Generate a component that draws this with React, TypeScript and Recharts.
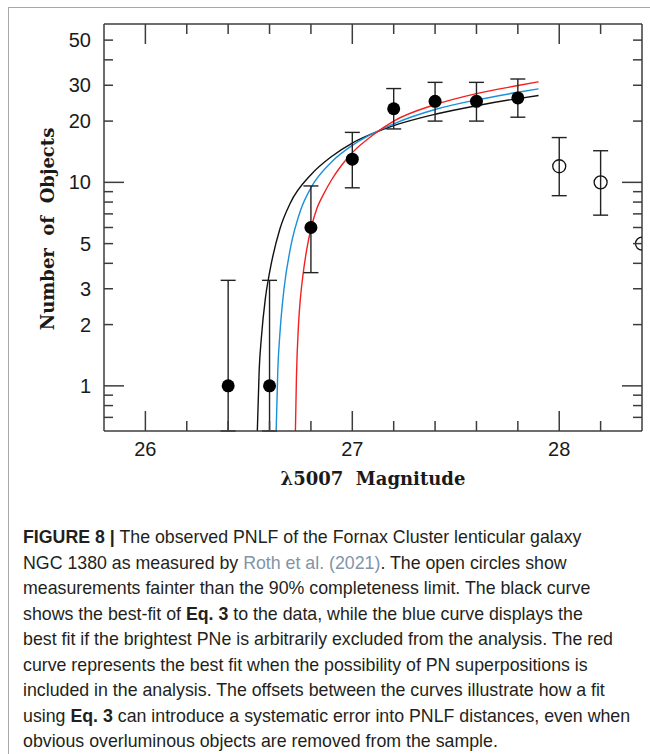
import { ComposedChart, Line, Scatter, ErrorBar, XAxis, YAxis } from 'recharts'

// measured points (filled = brighter than completeness limit)
const magFilled = [26.4, 26.6, 26.8, 27.0, 27.2, 27.4, 27.6, 27.8]
const nFilled = [1, 1, 6, 13, 23, 25, 25, 26]
const loFilled = [0.6, 0.6, 3.6, 9.4, 18.3, 20, 20, 20.9]
const hiFilled = [3.3, 3.3, 9.6, 17.6, 28.9, 31, 31, 32.2]

// open circles, fainter than the 90% limit
const magOpen = [28.0, 28.2, 28.4]
const nOpen = [12, 10, 5]
const loOpen: (number | null)[] = [8.6, 6.9, null]
const hiOpen: (number | null)[] = [16.6, 14.3, null]

// fitted curves
const blackMag = [26.541, 26.55, 26.56, 26.58, 26.6, 26.65, 26.7, 26.8, 26.9, 27.0, 27.1, 27.2, 27.4, 27.6, 27.8, 27.9]
const blackN = [0.6, 1.2, 1.7, 2.7, 3.6, 5.9, 7.9, 10.9, 13.4, 15.6, 17.4, 19.0, 21.6, 23.8, 25.8, 26.7]
const blueMag = [26.632, 26.64, 26.65, 26.67, 26.7, 26.75, 26.8, 26.9, 27.0, 27.1, 27.2, 27.4, 27.6, 27.8, 27.9]
const blueN = [0.6, 1.2, 1.8, 3.0, 4.7, 7.3, 9.4, 12.6, 15.2, 17.4, 19.4, 22.8, 25.4, 27.7, 28.8]
const redMag = [26.725, 26.73, 26.74, 26.75, 26.76, 26.78, 26.8, 26.83, 26.86, 26.9, 26.95, 27.0, 27.1, 27.2, 27.4, 27.6, 27.8, 27.9]
const redN = [0.6, 1.1, 2.0, 2.75, 3.4, 4.7, 5.9, 7.5, 8.7, 10.3, 12.2, 14.0, 17.1, 20.0, 24.1, 27.3, 29.9, 31.2]

const xTicks = [25.8, 26, 26.2, 26.4, 26.6, 26.8, 27, 27.2, 27.4, 27.6, 27.8, 28, 28.2, 28.4]
const xLabels = [26, 27, 28]
const yTicks = [0.7, 0.8, 0.9, 1, 2, 3, 4, 5, 6, 7, 8, 9, 10, 20, 30, 40, 50]
const yLabels = [1, 2, 3, 5, 10, 20, 30, 50]

const AXIS = '#3c3c3c'
const TICK_FONT = '"Liberation Sans", Arial, sans-serif'
const TITLE_FONT = '"DejaVu Serif", serif'

const toCurve = (ms: number[], ns: number[]) => ms.map((m, i) => ({ m, n: ns[i] }))
const toPoints = (ms: number[], ns: number[], lo: (number | null)[], hi: (number | null)[]) =>
  ms.map((m, i) => ({
    m,
    n: ns[i],
    err: lo[i] == null || hi[i] == null ? null : [ns[i] - (lo[i] as number), (hi[i] as number) - ns[i]],
  }))

const filled = toPoints(magFilled, nFilled, loFilled, hiFilled)
const open = toPoints(magOpen, nOpen, loOpen, hiOpen)

const xLen = (v: number) => (xLabels.includes(v) ? 20 : 10)
const yLen = (v: number) => (v === 1 || v === 10 ? 20 : 9)

function BottomTick(props: any) {
  const { x, y, payload } = props
  const v = payload.value
  if (v === 25.8 || v === 28.4) return <g />
  return (
    <g>
      <line x1={x} x2={x} y1={y} y2={y - xLen(v)} stroke={AXIS} strokeWidth={1.5} />
      {xLabels.includes(v) && (
        <text x={x} y={y + 18} dy="0.35em" textAnchor="middle" fontFamily={TICK_FONT} fontSize={20} fill="#1a1a1a">
          {v}
        </text>
      )}
    </g>
  )
}

function TopTick(props: any) {
  const { x, y, payload } = props
  const v = payload.value
  if (v === 25.8 || v === 28.4) return <g />
  return <line x1={x} x2={x} y1={y} y2={y + xLen(v)} stroke={AXIS} strokeWidth={1.5} />
}

function LeftTick(props: any) {
  const { x, y, payload } = props
  const v = payload.value
  return (
    <g>
      <line x1={x} x2={x + yLen(v)} y1={y} y2={y} stroke={AXIS} strokeWidth={1.5} />
      {yLabels.includes(v) && (
        <text x={x - 13} y={y} dy="0.35em" textAnchor="end" fontFamily={TICK_FONT} fontSize={20} fill="#1a1a1a">
          {v}
        </text>
      )}
    </g>
  )
}

function RightTick(props: any) {
  const { x, y, payload } = props
  const v = payload.value
  return <line x1={x} x2={x - yLen(v)} y1={y} y2={y} stroke={AXIS} strokeWidth={1.5} />
}

const FilledDot = (p: any) => <circle cx={p.cx} cy={p.cy} r={6.5} fill="#000" />
const OpenDot = (p: any) => <circle cx={p.cx} cy={p.cy} r={6.5} fill="none" stroke="#111" strokeWidth={1.3} />

const captionStyle = { fontFamily: '"Liberation Sans", Arial, sans-serif', fontSize: 18.5, color: '#231f20' }

export default function App() {
  return (
    <div style={{ position: 'absolute', left: 0, top: 0, width: 650, height: 754, overflow: 'hidden', background: '#fff' }}>
      <div style={{ position: 'absolute', left: 8, top: 7, width: 660, height: 760, borderLeft: '1.5px solid #a8a8a8', borderTop: '1.5px solid #a8a8a8' }} />
      <div style={{ position: 'absolute', left: 0, top: 0 }}>
        <ComposedChart width={650} height={500} margin={{ top: 23, right: 7, bottom: 0, left: 0 }}>
          <XAxis xAxisId="b" dataKey="m" type="number" domain={[25.8, 28.4]} ticks={xTicks} allowDataOverflow
            height={69} tickSize={0} tickMargin={0} tick={<BottomTick />} interval={0}
            axisLine={{ stroke: AXIS, strokeWidth: 1.5 }} />
          <XAxis xAxisId="t" orientation="top" dataKey="m" type="number" domain={[25.8, 28.4]} ticks={xTicks} allowDataOverflow
            height={1} tickSize={0} tickMargin={0} tick={<TopTick />} interval={0}
            axisLine={{ stroke: AXIS, strokeWidth: 1.5 }} />
          <YAxis yAxisId="l" dataKey="n" type="number" scale="log" domain={[0.6, 60]} ticks={yTicks} allowDataOverflow
            width={104} tickSize={0} tickMargin={0} tick={<LeftTick />} interval={0}
            axisLine={{ stroke: AXIS, strokeWidth: 1.5 }} />
          <YAxis yAxisId="r" orientation="right" dataKey="n" type="number" scale="log" domain={[0.6, 60]} ticks={yTicks} allowDataOverflow
            width={1} tickSize={0} tickMargin={0} tick={<RightTick />} interval={0}
            axisLine={{ stroke: AXIS, strokeWidth: 1.5 }} />
          <Line xAxisId="b" yAxisId="l" data={toCurve(blackMag, blackN)} dataKey="n" type="monotone" stroke="#111" strokeWidth={1.4} dot={false} isAnimationActive={false} />
          <Line xAxisId="b" yAxisId="l" data={toCurve(blueMag, blueN)} dataKey="n" type="monotone" stroke="#1a90d8" strokeWidth={1.4} dot={false} isAnimationActive={false} />
          <Line xAxisId="b" yAxisId="l" data={toCurve(redMag, redN)} dataKey="n" type="monotone" stroke="#f42020" strokeWidth={1.4} dot={false} isAnimationActive={false} />
          <Scatter xAxisId="b" yAxisId="l" data={filled} dataKey="n" shape={<FilledDot />} isAnimationActive={false}>
            <ErrorBar dataKey="err" direction="y" width={7.5} stroke="#222" strokeWidth={1.4} isAnimationActive={false} />
          </Scatter>
          <Scatter xAxisId="b" yAxisId="l" data={open} dataKey="n" shape={<OpenDot />} isAnimationActive={false}>
            <ErrorBar dataKey="err" direction="y" width={7.5} stroke="#222" strokeWidth={1.4} isAnimationActive={false} />
          </Scatter>
        </ComposedChart>
      </div>
      <div style={{ position: 'absolute', left: 47, top: 229, transform: 'translate(-50%, -50%) rotate(-90deg)', whiteSpace: 'pre', fontFamily: TITLE_FONT, fontWeight: 'bold', fontSize: 18, color: '#1a1a1a' }}>
        Number  of  Objects
      </div>
      <div style={{ position: 'absolute', left: 373, top: 478, transform: 'translate(-50%, -50%)', whiteSpace: 'pre', fontFamily: TITLE_FONT, fontWeight: 'bold', fontSize: 18, color: '#1a1a1a' }}>
        λ5007  Magnitude
      </div>
      <div style={{ position: 'absolute', left: 23, top: 524, width: 660, lineHeight: '25.5px', whiteSpace: 'pre', transform: 'scaleX(0.96)', transformOrigin: '0 0', ...captionStyle }}>
        <div><b>FIGURE 8 |</b> The observed PNLF of the Fornax Cluster lenticular galaxy</div>
        <div>NGC 1380 as measured by <span style={{ color: '#8194a8' }}>Roth et al. (2021)</span>. The open circles show</div>
        <div>measurements fainter than the 90% completeness limit. The black curve</div>
        <div>shows the best-fit of <b>Eq. 3</b> to the data, while the blue curve displays the</div>
        <div>best fit if the brightest PNe is arbitrarily excluded from the analysis. The red</div>
        <div>curve represents the best fit when the possibility of PN superpositions is</div>
        <div>included in the analysis. The offsets between the curves illustrate how a fit</div>
        <div>using <b>Eq. 3</b> can introduce a systematic error into PNLF distances, even when</div>
        <div>obvious overluminous objects are removed from the sample.</div>
      </div>
    </div>
  )
}
